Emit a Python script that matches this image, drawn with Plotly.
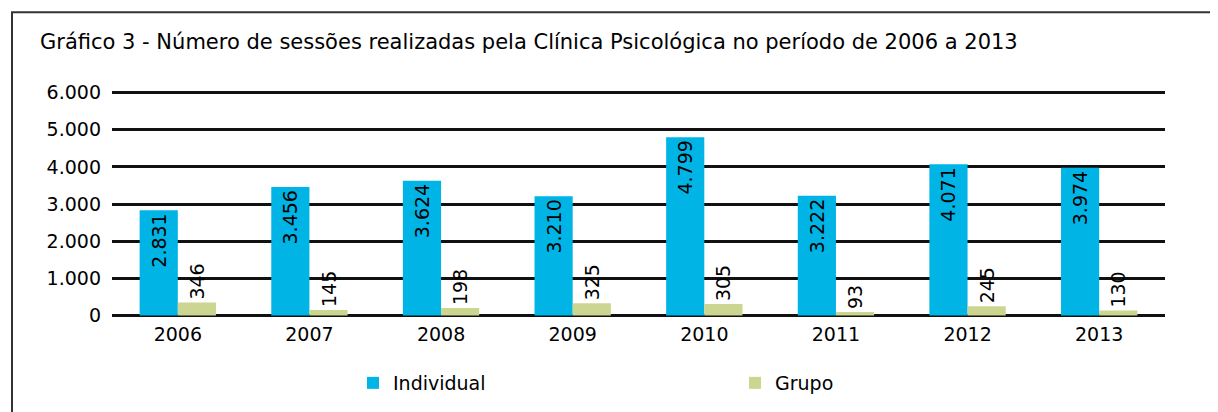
import plotly.graph_objects as go

years = ["2006", "2007", "2008", "2009", "2010", "2011", "2012", "2013"]
individual = [2831, 3456, 3624, 3210, 4799, 3222, 4071, 3974]
grupo = [346, 145, 198, 325, 305, 93, 245, 130]
y_ticks = [0, 1000, 2000, 3000, 4000, 5000, 6000]

FONT = "DejaVu Sans"
W, H = 1218, 412
OFF = 8  # page body margin offset
Y0_PX, Y6000_PX = 315 - OFF, 93 - OFF
PAD = 150
scale = (Y0_PX - Y6000_PX) / 6000.0
L = 112 - OFF
R = W - (1165 - OFF)
T = Y6000_PX - PAD * scale
B = H - Y0_PX - PAD * scale
pw, ph = W - L - R, H - T - B

def px_x(p):
    return (p - OFF - L) / pw

def px_y(p):
    return (H - B - (p - OFF)) / ph

fig = go.Figure()
fig.add_trace(go.Bar(
    x=years, y=individual, name="Individual",
    marker=dict(color="#00B4E6", line=dict(width=0)),
    texttemplate="%{y:,d}", textposition="inside", insidetextanchor="end",
    textangle=-90, constraintext="none",
    textfont=dict(family=FONT, size=19, color="#000000"),
))
fig.add_trace(go.Bar(
    x=years, y=grupo, name="Grupo",
    marker=dict(color="#CCD690", line=dict(width=0)),
    texttemplate="%{y:,d}", textposition="outside",
    textangle=-90, constraintext="none", cliponaxis=False,
    textfont=dict(family=FONT, size=19, color="#000000"),
))

fig.update_layout(
    width=W, height=H,
    margin=dict(l=L, r=R, t=T, b=B, autoexpand=False),
    paper_bgcolor="white", plot_bgcolor="white",
    separators=",.",
    barmode="group", bargap=0.42, bargroupgap=0,
    font=dict(family=FONT, size=18, color="#000000"),
    title=dict(
        text="Gráfico 3 - Número de sessões realizadas pela Clínica Psicológica no período de 2006 a 2013",
        x=(40 - OFF) / W, xref="container", xanchor="left",
        y=1 - (42 - OFF) / H, yref="container", yanchor="middle",
        font=dict(family=FONT, size=21, color="#000000"),
    ),
    xaxis=dict(
        type="category", showgrid=False, showline=False, zeroline=False,
        ticks="", tickfont=dict(family=FONT, size=19, color="#000000"),
        ticklabelstandoff=0,
    ),
    yaxis=dict(
        range=[-PAD, 6000 + PAD], tickvals=y_ticks, tickformat=",d",
        showgrid=True, gridcolor="#111111", gridwidth=3,
        zeroline=True, zerolinecolor="#111111", zerolinewidth=3,
        showline=False, ticks="",
        tickfont=dict(family=FONT, size=19, color="#000000"),
        ticklabelstandoff=10,
    ),
    legend=dict(
        orientation="h", x=(353 - OFF) / W, xref="container", xanchor="left",
        y=1 - (383 - OFF) / H, yref="container", yanchor="middle",
        entrywidth=337, entrywidthmode="pixels",
        font=dict(family=FONT, size=19, color="#000000"),
        bgcolor="rgba(0,0,0,0)",
    ),
    showlegend=True,
)

fig.add_shape(
    type="rect", xref="paper", yref="paper",
    x0=px_x(12), x1=px_x(1240), y0=px_y(440), y1=px_y(13),
    line=dict(color="#333333", width=2), fillcolor="rgba(0,0,0,0)",
    layer="above",
)

fig.write_html("out.html")
